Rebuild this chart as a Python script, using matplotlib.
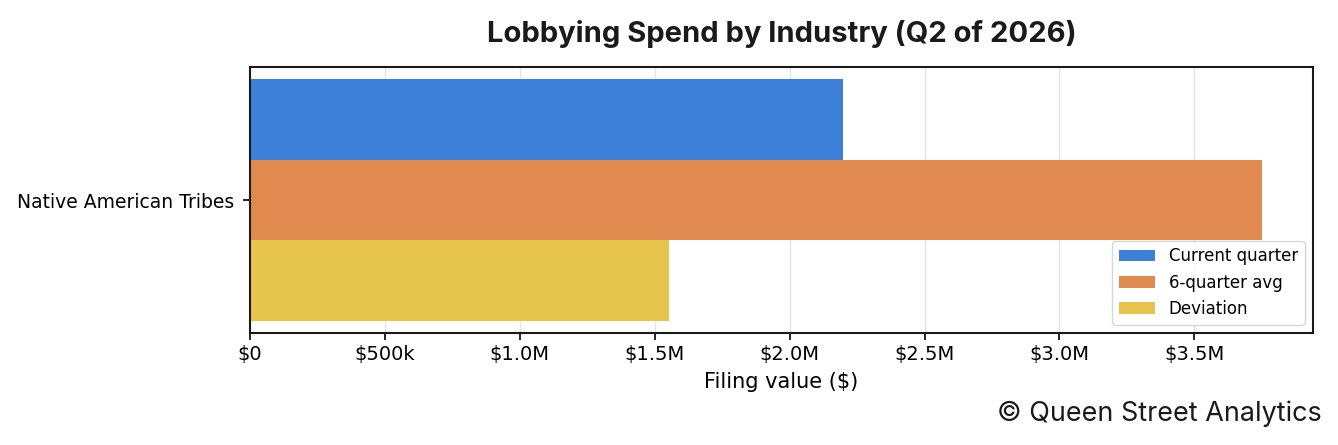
import matplotlib
matplotlib.use("Agg")
import matplotlib.pyplot as plt
import numpy as np
from matplotlib.ticker import FuncFormatter

plt.rcParams["font.family"] = ["DejaVu Sans"]

categories = ["Native American Tribes"]
series_names = ["Current quarter", "6-quarter avg", "Deviation"]
current = [2196000]
avg6 = [3752000]
deviation = [1552000]
colors = ["#3d80da", "#e08a50", "#e6c44b"]
tick_values = [0, 500000, 1000000, 1500000, 2000000, 2500000, 3000000, 3500000]

def fmt(v, pos=None):
    if v == 0:
        return "$0"
    if v >= 1e6:
        return f"${v/1e6:.1f}M"
    return f"${v/1e3:.0f}k"

fig = plt.figure(figsize=(13.38, 4.45), dpi=100)
ax = fig.add_axes([250/1338, 1-333/445, (1313-250)/1338, (333-67)/445])

y = np.arange(len(categories))
h = 0.8 / 3
data = [current, avg6, deviation]
offsets = [h, 0, -h]
for vals, name, c, off in zip(data, series_names, colors, offsets):
    ax.barh(y + off, vals, height=h, color=c, label=name, zorder=2)

ax.set_xlim(0, max(avg6) * 1.05)
ax.set_xticks(tick_values)
ax.xaxis.set_major_formatter(FuncFormatter(fmt))
ax.set_yticks(y)
ax.set_yticklabels(categories)
ax.tick_params(axis="x", labelsize=14, length=5, width=1.2)
ax.tick_params(axis="y", labelsize=13.5, length=5, width=1.2, pad=6)
ax.grid(axis="x", color="#e3e3e3", linewidth=1, zorder=0)
ax.set_axisbelow(True)
for s in ax.spines.values():
    s.set_linewidth(1.5)
    s.set_color("#1a1a1a")
ax.set_xlabel("Filing value ($)", fontsize=15, labelpad=6)
ax.set_title("Lobbying Spend by Industry (Q2 of 2026)", fontsize=21, fontweight="bold",
             family="Inter", color="#1a1a1a", pad=18)
ax.legend(loc="lower right", fontsize=12, frameon=True, handlelength=2.2)
fig.text(1322/1338, 1-414/445, "\u00a9 Queen Street Analytics", ha="right", va="center",
         family="Inter", fontsize=19.4, color="#1a1a1a")
fig.savefig("out.png", dpi=100)
